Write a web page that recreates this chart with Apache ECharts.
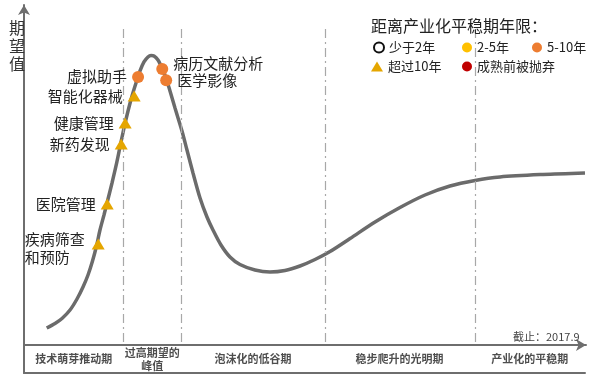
<!DOCTYPE html>
<html><head><meta charset="utf-8">
<script src="https://cdn.jsdelivr.net/npm/echarts@6/dist/echarts.min.js"></script>
<style>html,body{margin:0;padding:0;background:#fff}#c{width:600px;height:380px}</style>
</head><body><div id="c"></div>
<script>
// Hype curve (time 0-100, expectation 0-100)
const curveX = [4.04,5.52,6.76,8.19,9.43,10.50,11.39,12.19,12.90,13.52,14.23,14.95,15.66,16.37,17.08,17.79,18.51,19.22,19.93,20.64,21.35,22.06,22.60,23.13,23.84,24.56,25.27,25.98,26.87,28.11,29.00,30.07,31.32,32.56,33.63,35.05,36.65,38.43,41.10,43.77,46.44,49.11,51.78,54.45,58.01,62.46,66.90,71.35,75.80,80.25,84.70,92.35,99.82];
const curveY = [5.00,6.32,7.79,10.29,13.53,17.06,20.59,24.71,29.12,33.82,38.24,42.94,47.65,52.65,58.24,63.82,68.82,73.24,77.06,80.59,83.24,84.71,85.15,85.00,83.82,81.47,78.53,74.71,69.71,62.94,57.35,50.59,43.24,37.65,33.82,29.41,25.88,23.68,22.06,21.47,21.91,23.24,25.15,27.50,31.32,36.18,40.44,44.12,46.76,48.38,49.41,50.15,50.59];

// Technologies (>10 years: triangles)
const triNames = ['智能化器械','健康管理','新药发现','医院管理','疾病筛查\n和预防'];
const triX = [19.6,18.0,17.3,14.8,13.2];
const triY = [73.2,65.3,59.1,41.5,29.7];
// Technologies (5-10 years: orange circles)
const orgNames = ['虚拟助手','病历文献分析','医学影像'];
const orgX = [20.3,24.6,25.3];
const orgY = [78.8,81.2,77.9];

// Phases
const phaseBounds = [0,17.7,28.0,53.6,80.3,100];
const phaseNames = ['技术萌芽推动期','过高期望的\n峰值','泡沫化的低谷期','稳步爬升的光明期','产业化的平稳期'];

const legendNames = ['少于2年','2-5年','5-10年','超过10年','成熟前被抛弃'];

const FONT = '"Noto Sans CJK SC","Noto Sans",sans-serif';
const chart = echarts.init(document.getElementById('c'), null, {renderer:'canvas'});

const curveData = curveX.map((x,i)=>[x,curveY[i]]);
const triData = triX.map((x,i)=>({value:[x,triY[i]], name:triNames[i]}));
const orgData = orgX.map((x,i)=>({value:[x,orgY[i]], name:orgNames[i]}));
const phaseData = phaseNames.map((n,i)=>({value:[(phaseBounds[i]+phaseBounds[i+1])/2,50], name:n}));
const divLines = phaseBounds.slice(1,5).map(b=>[{coord:[b,0.9]},{coord:[b,93.5]}]);

const orgLabelPos = ['left','right','right'];
const orgLabelOff = [[0,-1],[0,-6],[0,0]];
orgData.forEach((d,i)=>{d.label={position:orgLabelPos[i], offset:orgLabelOff[i]};});
triData[4].label = {position:'left', align:'left', offset:[-62,4]};

const legendPos = [[368,36],[457,36],[527,36],[366,55],[457,55]];

chart.setOption({
  animation:false,
  textStyle:{fontFamily:FONT},
  title:[
    {text:'期\n望\n值', left:4, top:14, textStyle:{fontSize:16, fontWeight:'normal', color:'#333', lineHeight:18, fontFamily:FONT}},
    {text:'截止：2017.9', left:508, top:326, textStyle:{fontSize:11, fontWeight:'normal', color:'#444', fontFamily:FONT}},
    {text:'距离产业化平稳期年限：', left:366, top:13, textStyle:{fontSize:16, fontWeight:'normal', color:'#222', fontFamily:FONT}}
  ],
  legend: legendNames.map((n,i)=>({
    data:[n], left:legendPos[i][0], top:legendPos[i][1], itemWidth: i===3?12:10, itemHeight:10, itemGap:0,
    textStyle:{fontSize:13, color:'#222', fontFamily:FONT}, selectedMode:false
  })),
  grid:[
    {left:24, right:14, top:5, bottom:35},
    {left:24, right:15, top:345, bottom:7}
  ],
  xAxis:[
    {type:'value', gridIndex:0, min:0, max:100, axisLine:{show:true, symbol:['none','arrow'], symbolSize:[9,10], lineStyle:{color:'#6e6e6e', width:2}}, axisTick:{show:false}, axisLabel:{show:false}, splitLine:{show:false}},
    {type:'value', gridIndex:1, min:0, max:100, position:'bottom', axisLine:{show:true, onZero:false, lineStyle:{color:'#6e6e6e', width:2}}, axisTick:{show:false}, axisLabel:{show:false}, splitLine:{show:false}}
  ],
  yAxis:[
    {type:'value', gridIndex:0, min:0, max:100, axisLine:{show:true, symbol:['none','arrow'], symbolSize:[9,10], lineStyle:{color:'#6e6e6e', width:2}}, axisTick:{show:false}, axisLabel:{show:false}, splitLine:{show:false}},
    {type:'value', gridIndex:1, min:0, max:100, axisLine:{show:true, onZero:false, lineStyle:{color:'#6e6e6e', width:2}}, axisTick:{show:false}, axisLabel:{show:false}, splitLine:{show:false}}
  ],
  series:[
    {type:'line', name:'curve', xAxisIndex:0, yAxisIndex:0, data:curveData, smooth:0.3, showSymbol:false, symbol:'none',
     lineStyle:{color:'#6b6b6b', width:3.5}, z:2,
     markLine:{silent:true, symbol:['none','none'], label:{show:false}, lineStyle:{color:'#a8a8a8', width:1.2, type:[9,4,2,4]}, data:divLines}},
    {type:'scatter', name:'少于2年', data:[], symbol:'circle', symbolSize:10, itemStyle:{color:'#fff', borderColor:'#111', borderWidth:2, opacity:1}},
    {type:'scatter', name:'2-5年', data:[], symbol:'circle', symbolSize:10, itemStyle:{color:'#FFC000', opacity:1}},
    {type:'scatter', name:'5-10年', data:orgData, symbol:'circle', symbolSize:12, itemStyle:{color:'#ED7D31', opacity:1}, z:5,
     label:{show:true, formatter:'{b}', fontSize:15, color:'#222', distance:5, fontFamily:FONT}},
    {type:'scatter', name:'超过10年', data:triData, symbol:'triangle', symbolSize:[13,11], itemStyle:{color:'#E5A600', opacity:1}, z:5,
     label:{show:true, position:'left', formatter:'{b}', fontSize:15, color:'#222', distance:5, lineHeight:18, fontFamily:FONT}},
    {type:'scatter', name:'成熟前被抛弃', data:[], symbol:'circle', symbolSize:10, itemStyle:{color:'#C00000', opacity:1}},
    {type:'scatter', name:'phases', xAxisIndex:1, yAxisIndex:1, data:phaseData, symbolSize:0, silent:true,
     label:{show:true, position:'inside', formatter:'{b}', fontSize:11, fontWeight:'bold', color:'#222', lineHeight:13, fontFamily:FONT}}
  ]
});
</script></body></html>
